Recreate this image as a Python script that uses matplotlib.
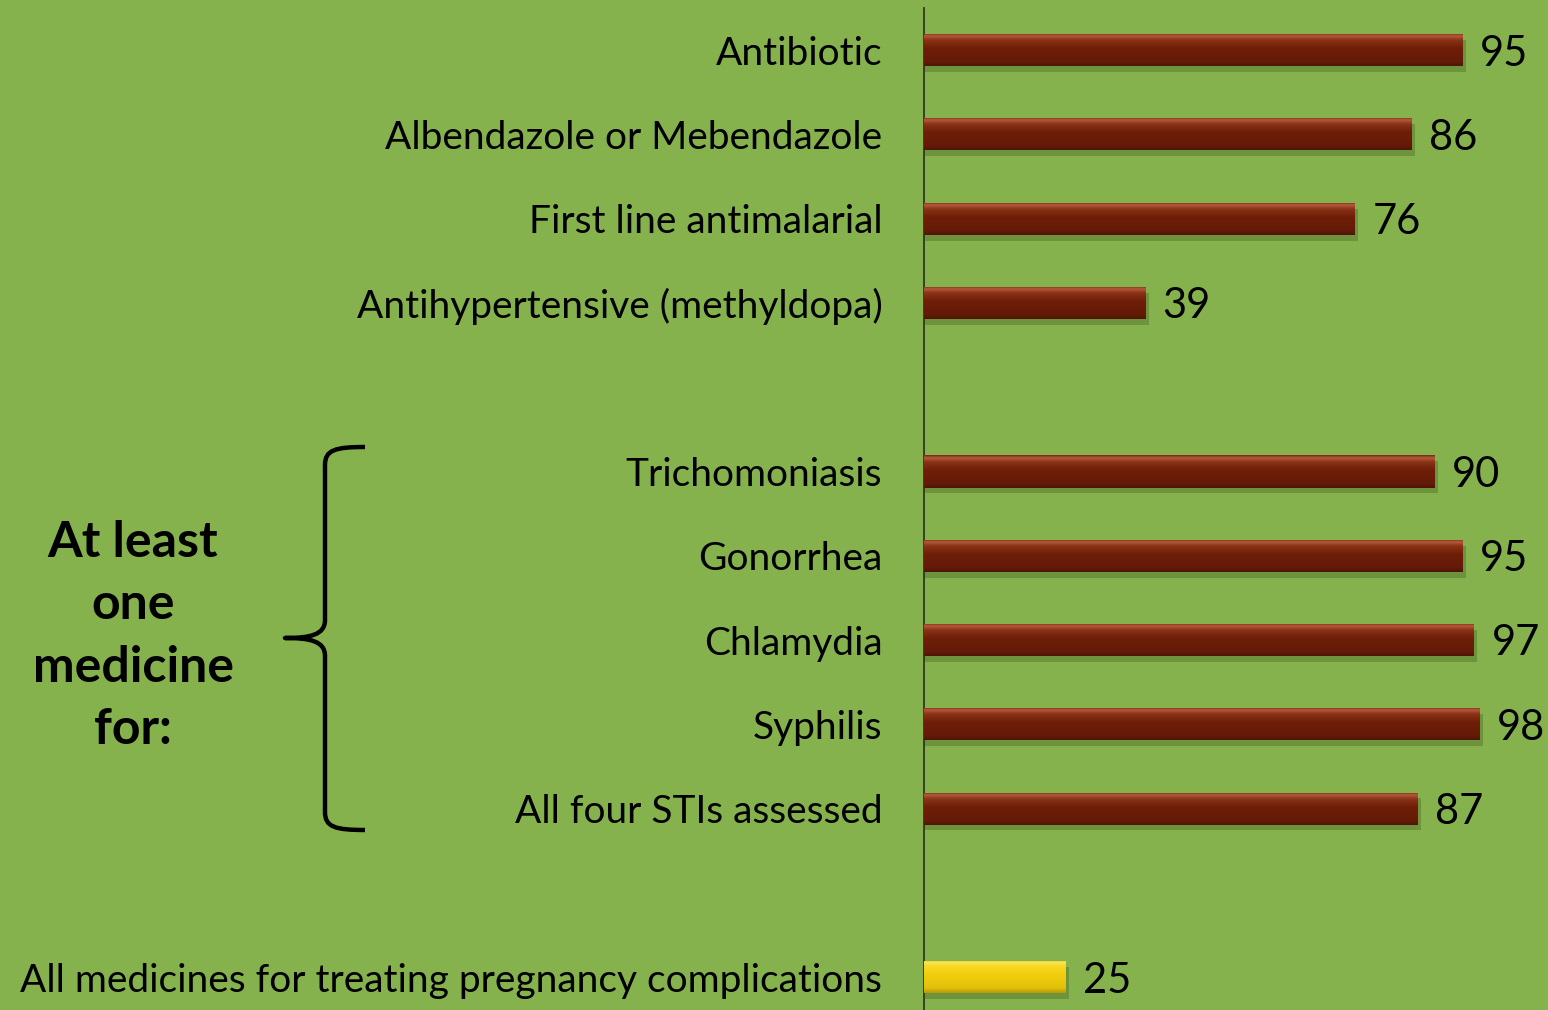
import matplotlib
matplotlib.use("Agg")
import matplotlib.pyplot as plt
import numpy as np
from matplotlib.path import Path
from matplotlib.patches import PathPatch
from matplotlib.colors import LinearSegmentedColormap

categories = ["Antibiotic", "Albendazole or Mebendazole", "First line antimalarial",
              "Antihypertensive (methyldopa)", "", "Trichomoniasis", "Gonorrhea",
              "Chlamydia", "Syphilis", "All four STIs assessed", "",
              "All medicines for treating pregnancy complications"]
values = [95, 86, 76, 39, None, 90, 95, 97, 98, 87, None, 25]
bar_kind = ["red", "red", "red", "red", None, "red", "red", "red", "red", "red", None, "yellow"]
group_label = "At least\none\nmedicine\nfor:"

BG = "#86B24E"
FONT = ["Lato", "DejaVu Sans"]
plt.rcParams["font.family"] = FONT

W, H = 1548, 1010
fig = plt.figure(figsize=(W / 100, H / 100), dpi=100)
fig.patch.set_facecolor(BG)

ax = fig.add_axes([924 / W, 0, 567 / W, 1002 / H])
ax.set_facecolor(BG)

n = len(categories)
ypos = [n - 1 - i for i in range(n)]
bh = 0.38

grad = {
    "red": LinearSegmentedColormap.from_list("r", [(0, "#4E1506"), (0.12, "#641B07"), (0.55, "#6F1E08"), (0.8, "#8A3418"), (0.92, "#B65A3E"), (1, "#7A2A12")]),
    "yellow": LinearSegmentedColormap.from_list("y", [(0, "#B89A05"), (0.15, "#E2C00A"), (0.6, "#F2CF0E"), (0.85, "#F8DC2A"), (0.95, "#FBE65A"), (1, "#D8B80A")]),
}
base = {"red": "#6F1E08", "yellow": "#F2CE0E"}

g = np.linspace(0, 1, 64).reshape(-1, 1)
for y, v, k in zip(ypos, values, bar_kind):
    if v is None:
        continue
    ax.barh(y - 0.07, v + 0.6, height=bh, left=0, color="#3F5A1E", alpha=0.35, linewidth=0, zorder=1)
    b = ax.barh(y, v, height=bh, left=0, color=base[k], linewidth=0, zorder=2)[0]
    im = ax.imshow(g, cmap=grad[k], aspect="auto", origin="lower",
                   extent=[0, v, y - bh / 2, y + bh / 2], zorder=3, interpolation="bilinear")
    im.set_clip_path(b)
    ax.text(v + 3.1, y - 0.04, f"{v}", va="center", ha="left", fontsize=30, color="black", clip_on=False)

ax.set_xlim(0, 100)
ax.set_ylim(-0.39, 11.5)
ax.set_yticks(ypos, categories)
ax.tick_params(axis="y", length=0, pad=30, labelsize=28)
ax.set_xticks([])
for s in ["top", "right", "bottom"]:
    ax.spines[s].set_visible(False)
ax.spines["left"].set_color("#2F3A1E")
ax.spines["left"].set_linewidth(1.3)

fig.text(133 / W, 1 - 636 / H, group_label, ha="center", va="center", fontsize=36,
         fontweight="bold", linespacing=1.46, color="black")

def P(x, y):
    return (x / W, 1 - y / H)

verts = [P(365, 447), P(335, 447), P(325, 450), P(325, 465),
         P(325, 620),
         P(325, 635), P(310, 638), P(285, 638),
         P(310, 638), P(325, 641), P(325, 656),
         P(325, 812),
         P(325, 827), P(335, 830), P(365, 830)]
codes = [Path.MOVETO, Path.CURVE4, Path.CURVE4, Path.CURVE4,
         Path.LINETO,
         Path.CURVE4, Path.CURVE4, Path.CURVE4,
         Path.CURVE4, Path.CURVE4, Path.CURVE4,
         Path.LINETO,
         Path.CURVE4, Path.CURVE4, Path.CURVE4]
fig.add_artist(PathPatch(Path(verts, codes), fill=False, lw=3.2, edgecolor="black",
                         transform=fig.transFigure, capstyle="butt", joinstyle="round"))

fig.savefig("out.png", dpi=100, facecolor=BG)
